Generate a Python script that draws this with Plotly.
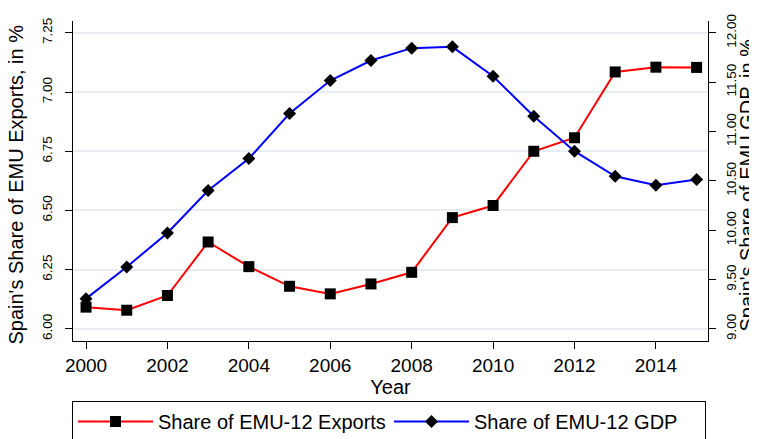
import plotly.graph_objects as go

years = list(range(2000, 2016))
exports_share = [6.092, 6.079, 6.141, 6.367, 6.263, 6.180, 6.148, 6.190,
                 6.239, 6.470, 6.521, 6.750, 6.807, 7.085, 7.105, 7.104]
gdp_share = [9.307, 9.628, 9.973, 10.402, 10.726, 11.182, 11.517, 11.720,
             11.845, 11.858, 11.561, 11.155, 10.801, 10.547, 10.456, 10.514]
left_ticks = [6.00, 6.25, 6.50, 6.75, 7.00, 7.25]
right_ticks = [9.00, 9.50, 10.00, 10.50, 11.00, 11.50, 12.00]
x_ticks = list(range(2000, 2015, 2))
left_title = "Spain's Share of EMU Exports, in %"
right_title = "Spain's Share of EMU GDP, in %"

FONT = "Liberation Sans, Arial, sans-serif"

fig = go.Figure()
fig.add_trace(go.Scatter(
    x=years, y=exports_share, name="Share of EMU-12 Exports",
    mode="lines+markers",
    line=dict(color="#ff0000", width=2),
    marker=dict(symbol="square", size=11, color="black"),
    yaxis="y"))
fig.add_trace(go.Scatter(
    x=years, y=gdp_share, name="Share of EMU-12 GDP",
    mode="lines+markers",
    line=dict(color="#0000ff", width=2),
    marker=dict(symbol="diamond", size=10, color="black"),
    yaxis="y2"))

fig.update_layout(
    template="none",
    width=757, height=439,
    margin=dict(l=65, r=57, t=13, b=106, autoexpand=False),
    paper_bgcolor="white", plot_bgcolor="white",
    font=dict(family=FONT, color="black", size=15),
    showlegend=True,
    legend=dict(orientation="h", x=64 / 757, xref="container", xanchor="left",
                y=1 - 393 / 439, yref="container", yanchor="top",
                bordercolor="black", borderwidth=1, font=dict(size=20),
                itemwidth=75, entrywidth=226, tracegroupgap=0, bgcolor="white"),
    xaxis=dict(range=[1999.68, 2015.28], tickvals=x_ticks, ticks="outside",
               ticklen=7, tickcolor="black", showline=True, linecolor="black",
               linewidth=1, showgrid=False, zeroline=False, mirror=False,
               automargin=True,
               title=dict(text="Year", font=dict(size=20), standoff=3),
               tickfont=dict(size=19)),
    yaxis=dict(range=[5.949, 7.30], tickvals=left_ticks, tickformat=".2f",
               ticks="outside", ticklen=7, tickcolor="black", showline=True,
               linecolor="black", linewidth=1, showgrid=True,
               gridcolor="#e6eef1", gridwidth=1.5, zeroline=False,
               automargin=False, ticklabelstandoff=8,
               tickangle=-90, tickfont=dict(size=13.5)),
    yaxis2=dict(range=[8.878, 12.12], tickvals=right_ticks, tickformat=".2f",
                overlaying="y", side="right", ticks="outside", ticklen=7,
                tickcolor="black", showline=True, linecolor="black",
                linewidth=1, showgrid=False, zeroline=False,
                automargin=False, ticklabelstandoff=4,
                tickangle=-90, tickfont=dict(size=13.5)),
    annotations=[
        dict(text=left_title, xref="paper", yref="paper", x=-0.0913, y=0.489,
             xanchor="center", yanchor="middle", textangle=-90,
             showarrow=False, font=dict(size=20)),
        dict(text=right_title, xref="paper", yref="paper", x=1.0614, y=0.489,
             xanchor="center", yanchor="middle", textangle=-90,
             showarrow=False, font=dict(size=20)),
    ],
)

fig.write_html("out.html")
